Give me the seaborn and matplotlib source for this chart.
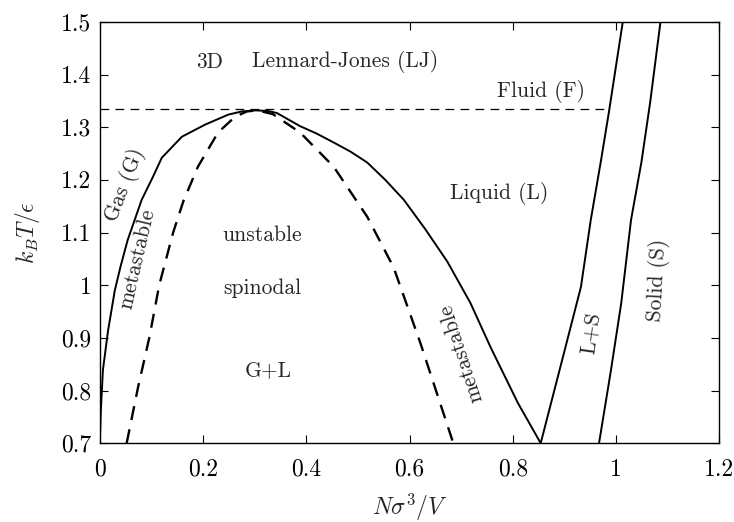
import numpy as np
import pandas as pd
import matplotlib
matplotlib.use("Agg")
import matplotlib.pyplot as plt
import seaborn as sns

# ---- data ----
binodal_x = [0.0, 0.002, 0.006, 0.016, 0.029, 0.040, 0.054, 0.081, 0.103, 0.120, 0.159, 0.204, 0.249, 0.275, 0.301,
             0.325, 0.343, 0.388, 0.420, 0.453, 0.485, 0.518, 0.553, 0.589, 0.630, 0.673, 0.718, 0.757, 0.810, 0.854]
binodal_y = [0.70, 0.762, 0.839, 0.914, 0.99, 1.035, 1.086, 1.162, 1.206, 1.242, 1.282, 1.305, 1.324, 1.330, 1.332,
             1.331, 1.327, 1.302, 1.288, 1.271, 1.254, 1.233, 1.200, 1.162, 1.107, 1.045, 0.966, 0.882, 0.776, 0.70]

spinodal_x = [0.052, 0.074, 0.096, 0.115, 0.142, 0.162, 0.190, 0.229, 0.262, 0.285, 0.305,
              0.335, 0.388, 0.453, 0.518, 0.569, 0.621, 0.683]
spinodal_y = [0.70, 0.806, 0.901, 1.00, 1.10, 1.160, 1.225, 1.29, 1.320, 1.330, 1.332,
              1.325, 1.29, 1.225, 1.13, 1.034, 0.89, 0.705]

melting_x = [0.854, 0.899, 0.932, 0.951, 0.971, 0.986, 1.013]
melting_y = [0.70, 0.871, 0.997, 1.124, 1.238, 1.328, 1.50]

freezing_x = [0.967, 0.990, 1.010, 1.029, 1.049, 1.066, 1.086]
freezing_y = [0.70, 0.838, 0.966, 1.124, 1.233, 1.347, 1.50]

critical_x = [0.0, 0.986]
critical_y = [1.335, 1.335]

xticks = [0, 0.2, 0.4, 0.6, 0.8, 1, 1.2]
xtick_labels = ["0", "0.2", "0.4", "0.6", "0.8", "1", "1.2"]
yticks = [0.7, 0.8, 0.9, 1.0, 1.1, 1.2, 1.3, 1.4, 1.5]
ytick_labels = ["0.7", "0.8", "0.9", "1", "1.1", "1.2", "1.3", "1.4", "1.5"]

# ---- style ----
sns.set_theme(style="ticks")
plt.rcParams["font.family"] = ["cmr10", "DejaVu Serif"]
plt.rcParams["mathtext.fontset"] = "cm"
plt.rcParams["axes.unicode_minus"] = False
plt.rcParams["axes.formatter.use_mathtext"] = True

fig = plt.figure(figsize=(7.34, 5.22), dpi=100)
ax = fig.add_axes([0.136, 0.151, 0.844, 0.807])

def draw(x, y, **kw):
    df = pd.DataFrame({"x": x, "y": y})
    sns.lineplot(data=df, x="x", y="y", sort=False, estimator=None, ax=ax, color="black", **kw)

draw(binodal_x, binodal_y, linewidth=1.4)
draw(spinodal_x, spinodal_y, linewidth=1.7, linestyle=(0, (6, 4)))
draw(melting_x, melting_y, linewidth=1.4)
draw(freezing_x, freezing_y, linewidth=1.4)
draw(critical_x, critical_y, linewidth=0.9, linestyle=(0, (7, 5)))

ax.set_xlim(0, 1.2)
ax.set_ylim(0.7, 1.5)
ax.set_xticks(xticks)
ax.set_xticklabels(xtick_labels)
ax.set_yticks(yticks)
ax.set_yticklabels(ytick_labels)
ax.tick_params(direction="in", top=True, right=True, length=6, width=0.8,
               labelsize=17, color="black", labelcolor="black")
ax.tick_params(axis="x", pad=11)
ax.tick_params(axis="y", pad=6)
for s in ax.spines.values():
    s.set_linewidth(1.0)
    s.set_color("black")

ax.set_xlabel(r"$N\sigma^3/V$", fontsize=17, labelpad=8)
ax.set_ylabel(r"$k_BT/\epsilon$", fontsize=17, labelpad=14)

fs = 15.5
ax.text(0.213, 1.424, "3D", fontsize=fs, ha="center", va="center")
ax.text(0.476, 1.424, "Lennard-Jones (LJ)", fontsize=fs, ha="center", va="center")
ax.text(0.854, 1.368, "Fluid (F)", fontsize=fs, ha="center", va="center")
ax.text(0.773, 1.175, "Liquid (L)", fontsize=fs, ha="center", va="center")
ax.text(0.049, 1.19, "Gas (G)", fontsize=fs, ha="center", va="center", rotation=69)
ax.text(0.072, 1.05, "metastable", fontsize=fs, ha="center", va="center", rotation=77)
ax.text(0.315, 1.094, "unstable", fontsize=fs, ha="center", va="center")
ax.text(0.315, 0.994, "spinodal", fontsize=fs, ha="center", va="center")
ax.text(0.326, 0.838, "G+L", fontsize=fs, ha="center", va="center")
ax.text(0.699, 0.871, "metastable", fontsize=fs, ha="center", va="center", rotation=108)
ax.text(0.951, 0.91, "L+S", fontsize=fs, ha="center", va="center", rotation=82)
ax.text(1.08, 1.01, "Solid (S)", fontsize=fs, ha="center", va="center", rotation=87)

fig.savefig("out.png", dpi=100)
